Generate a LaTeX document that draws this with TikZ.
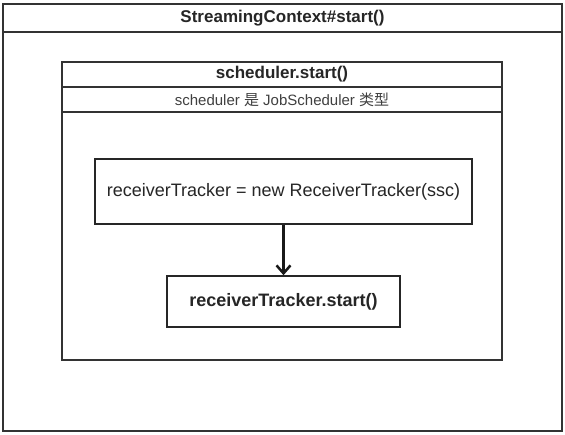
\documentclass[tikz,border=0pt]{standalone}
\usepackage{fontspec}
\setmainfont{Liberation Sans}
\newfontfamily\cjk{Noto Sans CJK SC}
\usetikzlibrary{arrows.meta}
\begin{document}
\begin{tikzpicture}[x=1pt,y=-1pt,
  frame/.style={draw=black!80,line width=1.5pt},
  ttl/.style={font=\bfseries\fontsize{17}{19}\selectfont,text=black!85},
  sub/.style={font=\fontsize{15}{17}\selectfont,text=black!75},
  stepbox/.style={draw=black!85,line width=1.5pt,inner sep=0pt},
  every node/.style={text=black!85}]
\useasboundingbox (0,0) rectangle (565,435);
\fill[white] (0,0) rectangle (565,435);
% outer
\draw[frame] (3,4) rectangle (562,431);
\draw[frame] (3,32) -- (562,32);
\node[ttl] (outer) at (282.5,18) {StreamingContext\#start()};
% inner
\draw[frame] (62,62) rectangle (502,360);
\draw[frame] (62,87) -- (502,87);
\draw[frame] (62,112) -- (502,112);
\node[ttl] (inner) at (282,74.5) {scheduler.start()};
\node[sub] (note) at (282,99.5) {scheduler {\cjk 是} JobScheduler {\cjk 类型}};
% steps
\node[stepbox,minimum width=377pt,minimum height=65pt,font=\fontsize{18}{20}\selectfont] (a) at (283.5,191.5) {receiverTracker = new ReceiverTracker(ssc)};
\node[stepbox,minimum width=233pt,minimum height=51pt,font=\bfseries\fontsize{18}{20}\selectfont] (b) at (283.5,301.5) {receiverTracker.start()};
\draw[line width=2.5pt,black!90,-{Straight Barb[length=8pt,width=14pt]}] (a.south) -- (b.north);
\end{tikzpicture}
\end{document}
